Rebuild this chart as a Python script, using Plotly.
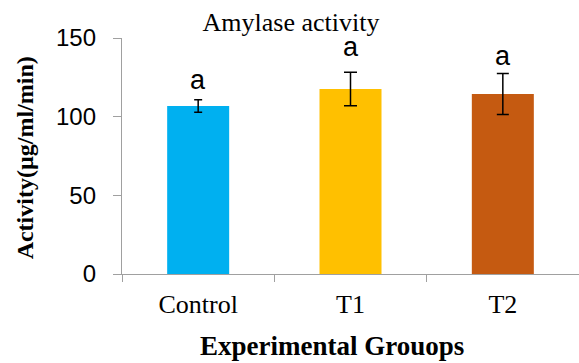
import plotly.graph_objects as go

categories = ["Control", "T1", "T2"]
means = [106.8, 117.6, 114.4]
errors = [4.0, 10.7, 13.0]
colors = ["#00B0F0", "#FFC000", "#C55A11"]
cap_widths = [4, 6.5, 6]
sig_letters = ["a", "a", "a"]
letter_y = [123.3, 144.3, 138.6]
y_ticks = [0, 50, 100, 150]

fig = go.Figure()
for cat, m, e, c, w in zip(categories, means, errors, colors, cap_widths):
    fig.add_trace(go.Bar(
        x=[cat], y=[m], marker=dict(color=c, line=dict(width=0)),
        error_y=dict(type="data", array=[e], color="black", thickness=1.5, width=w),
        showlegend=False,
    ))

for cat, lab, ly in zip(categories, sig_letters, letter_y):
    fig.add_annotation(x=cat, y=ly, text=lab, showarrow=False, yanchor="middle",
                       font=dict(family="Liberation Sans", size=27, color="black"))

fig.add_annotation(xref="paper", yref="paper", x=(332 - 122) / 457, y=-(346 - 274.3) / 236.3,
                   text="<b>Experimental Grouops</b>", showarrow=False,
                   xanchor="center", yanchor="middle",
                   font=dict(family="Liberation Serif", size=27, color="black"))
fig.add_annotation(xref="paper", yref="paper", x=-(122 - 25) / 457, y=0.49,
                   text="<b>Activity(µg/ml/min)</b>", showarrow=False, textangle=-90,
                   xanchor="center", yanchor="middle",
                   font=dict(family="Liberation Serif", size=24, color="black"))

fig.update_layout(
    width=579, height=363,
    margin=dict(l=122, r=0, t=38, b=89),
    paper_bgcolor="white", plot_bgcolor="white",
    bargap=0.593,
    title=dict(text="Amylase activity", x=291 / 579, xanchor="center",
               y=1 - 22 / 363, yanchor="middle",
               font=dict(family="Liberation Serif", size=26, color="black")),
    xaxis=dict(showline=True, linecolor="#a0a0a0", linewidth=1.3,
               ticks="outside", ticklen=7, tickcolor="#a0a0a0", tickson="boundaries",
               showgrid=False, zeroline=False, ticklabelstandoff=7,
               tickfont=dict(family="Liberation Serif", size=26, color="black")),
    yaxis=dict(range=[0, 150], tickvals=y_ticks, showline=True, linecolor="#a0a0a0",
               linewidth=1.3, ticks="outside", ticklen=8, tickcolor="#a0a0a0",
               showgrid=False, zeroline=False, ticklabelstandoff=12,
               tickfont=dict(family="Liberation Sans", size=24, color="black")),
)

fig.write_html("out.html")
